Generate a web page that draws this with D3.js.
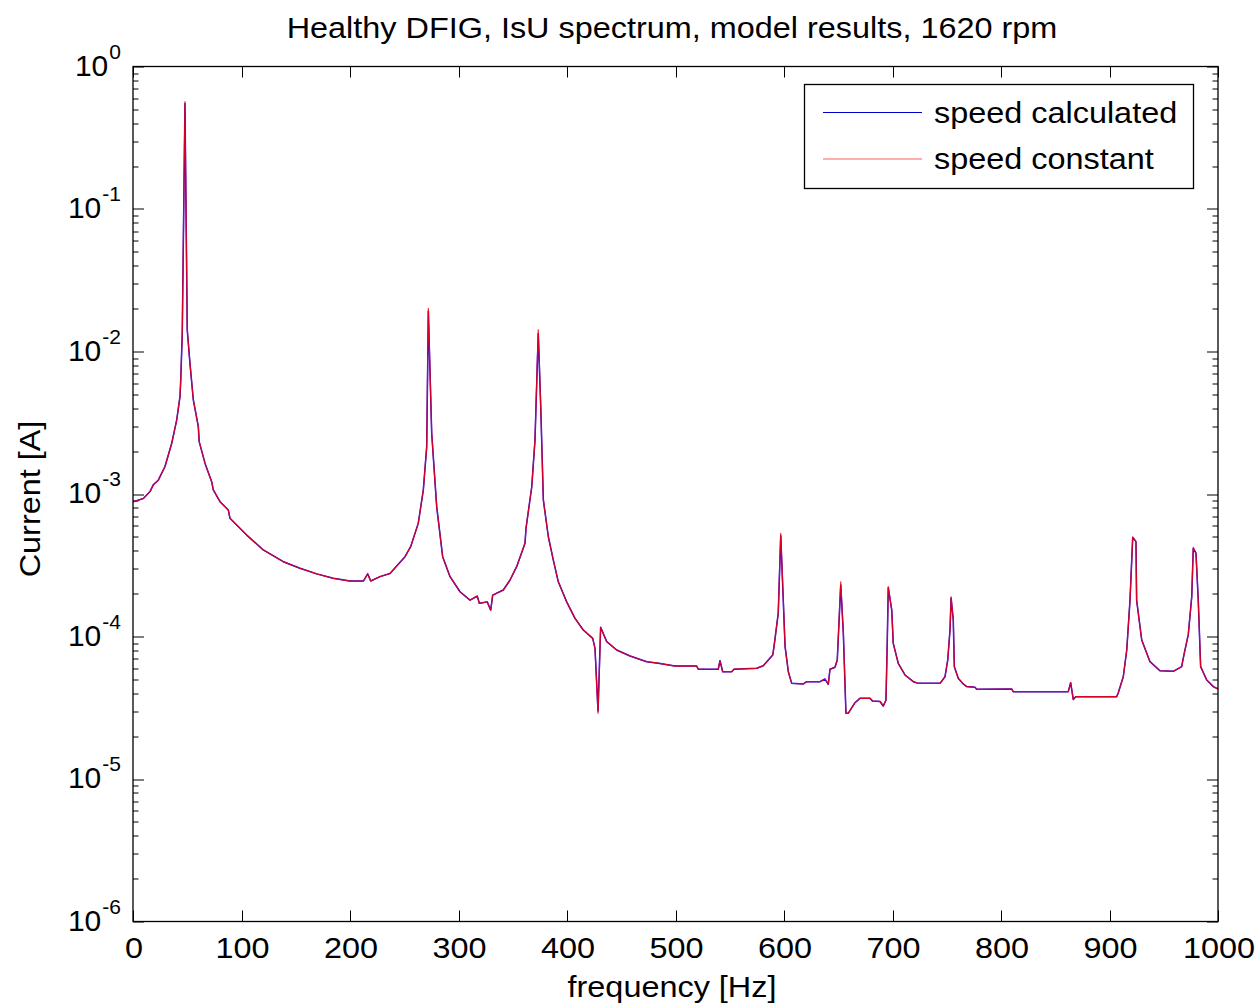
<!DOCTYPE html>
<html>
<head>
<meta charset="utf-8">
<script src="https://cdn.jsdelivr.net/npm/d3@7"></script>
<style>
  body { margin: 0; background: #fff; }
  text { font-family: "Liberation Sans", Arial, Helvetica, sans-serif; fill: #000; }
</style>
</head>
<body>
<div id="chart"></div>
<script>
// frequency [Hz] of each sample
const freq = [0, 9.5, 15.7, 18.7, 23.3, 29.5, 35.7, 40.3, 43.3, 44,
  45.4, 47.9, 50, 52.5, 55.6, 60.2, 61, 66.4, 72.5, 74,
  80.2, 87.8, 89.4, 104.8, 120.1, 138.5, 153.9, 169.3, 184.6, 200,
  212.3, 216.3, 219.1, 227.6, 236.9, 250.7, 255.9, 262.9, 267.6, 270.7,
  272.2, 275.3, 279.9, 285.4, 292.2, 301.4, 310.6, 317.3, 319.2, 326.5,
  329.7, 331.5, 341.3, 347.5, 353.6, 361.3, 362.2, 367.5, 370.5, 373.5,
  375.8, 378.2, 382.8, 387.4, 392, 399.7, 407.4, 415, 423.7, 425.8,
  428.6, 431, 436.6, 445.8, 458.1, 473.5, 484.1, 499.5, 519.5, 521,
  539.4, 541, 543.5, 551.8, 553.9, 574.8, 580.9, 589.6, 590.8, 594.7,
  597, 601, 604, 607.1, 617.8, 620.9, 633.2, 637.8, 640.8, 642.4,
  647, 649.1, 652.3, 654.7, 657.1, 659.2, 665.4, 670, 679.3, 681.7,
  688.5, 691.5, 694, 695.2, 696.1, 699.3, 700.7, 705.3, 711.5, 719.2,
  723.8, 743.8, 748.4, 750.9, 753, 754, 756, 757, 760.6, 765.2,
  768.4, 776, 777.6, 809.9, 811.3, 862, 864.2, 866.6, 868.9, 906.6,
  908.1, 912.7, 915.9, 918.9, 921.4, 924.4, 925, 929.7, 937.3, 946.5,
  958.8, 966.5, 968.7, 972.6, 975.8, 977.2, 979.7, 981.8, 984, 989.6,
  995.7, 1000];

// stator current, speed calculated [A]
const speedCalculated = [8.8e-4, 9.3e-4, 1.04e-3, 1.16e-3, 1.25e-3, 1.56e-3, 2.27e-3, 3.31e-3, 4.82e-3, 6.3e-3,
  0.0134, 0.55, 0.0142, 8.26e-3, 4.57e-3, 2.97e-3, 2.33e-3, 1.64e-3, 1.22e-3, 1.07e-3,
  8.83e-4, 7.73e-4, 6.75e-4, 5.15e-4, 4.05e-4, 3.35e-4, 3.01e-4, 2.75e-4, 2.56e-4, 2.45e-4,
  2.45e-4, 2.75e-4, 2.45e-4, 2.63e-4, 2.77e-4, 3.63e-4, 4.27e-4, 6.22e-4, 1.07e-3, 2.15e-3,
  0.0192, 2.67e-3, 8.15e-4, 3.63e-4, 2.63e-4, 2.06e-4, 1.80e-4, 1.92e-4, 1.71e-4, 1.75e-4,
  1.53e-4, 1.95e-4, 2.12e-4, 2.49e-4, 3.09e-4, 4.51e-4, 5.74e-4, 1.12e-3, 2.39e-3, 0.0134,
  4.1e-3, 9.08e-4, 5.01e-4, 3.44e-4, 2.42e-4, 1.75e-4, 1.34e-4, 1.11e-4, 9.7e-5, 8.26e-5,
  3.0e-5, 1.16e-4, 9.2e-5, 8.04e-5, 7.3e-5, 6.65e-5, 6.5e-5, 6.2e-5, 6.2e-5, 5.89e-5,
  5.89e-5, 6.76e-5, 5.66e-5, 5.66e-5, 5.9e-5, 5.98e-5, 6.24e-5, 7.41e-5, 8.49e-5, 1.46e-4,
  5.1e-4, 8.49e-5, 5.66e-5, 4.69e-5, 4.65e-5, 4.82e-5, 4.82e-5, 5.03e-5, 4.62e-5, 5.89e-5,
  6.08e-5, 6.84e-5, 2.3e-4, 1.05e-4, 2.89e-5, 2.89e-5, 3.43e-5, 3.68e-5, 3.68e-5, 3.52e-5,
  3.5e-5, 3.25e-5, 3.58e-5, 9.45e-5, 2.2e-4, 1.53e-4, 8.95e-5, 6.49e-5, 5.37e-5, 4.82e-5,
  4.69e-5, 4.69e-5, 5.22e-5, 6.84e-5, 1.11e-4, 1.86e-4, 1.31e-4, 6.14e-5, 5.09e-5, 4.65e-5,
  4.45e-5, 4.4e-5, 4.26e-5, 4.28e-5, 4.1e-5, 4.1e-5, 4.74e-5, 3.62e-5, 3.78e-5, 3.78e-5,
  4.03e-5, 5.22e-5, 8.04e-5, 1.8e-4, 4.95e-4, 4.63e-4, 1.8e-4, 9.45e-5, 6.66e-5, 5.75e-5,
  5.7e-5, 6.14e-5, 7.5e-5, 1.03e-4, 1.9e-4, 4.15e-4, 3.84e-4, 1.8e-4, 6.14e-5, 4.95e-5,
  4.45e-5, 4.28e-5];

// stator current, speed constant [A]
const speedConstant = [8.8e-4, 9.3e-4, 1.04e-3, 1.16e-3, 1.25e-3, 1.56e-3, 2.27e-3, 3.31e-3, 4.82e-3, 6.3e-3,
  0.0134, 0.566, 0.0142, 8.26e-3, 4.57e-3, 2.97e-3, 2.33e-3, 1.64e-3, 1.22e-3, 1.07e-3,
  8.83e-4, 7.73e-4, 6.75e-4, 5.15e-4, 4.05e-4, 3.35e-4, 3.01e-4, 2.75e-4, 2.56e-4, 2.45e-4,
  2.45e-4, 2.75e-4, 2.45e-4, 2.63e-4, 2.77e-4, 3.63e-4, 4.27e-4, 6.22e-4, 1.07e-3, 2.15e-3,
  0.0201, 2.67e-3, 8.15e-4, 3.63e-4, 2.63e-4, 2.06e-4, 1.80e-4, 1.92e-4, 1.71e-4, 1.75e-4,
  1.53e-4, 1.95e-4, 2.12e-4, 2.49e-4, 3.09e-4, 4.51e-4, 5.74e-4, 1.12e-3, 2.39e-3, 0.0142,
  4.1e-3, 9.08e-4, 5.01e-4, 3.44e-4, 2.42e-4, 1.75e-4, 1.34e-4, 1.11e-4, 9.7e-5, 8.26e-5,
  2.89e-5, 1.16e-4, 9.2e-5, 8.04e-5, 7.3e-5, 6.65e-5, 6.5e-5, 6.2e-5, 6.2e-5, 5.89e-5,
  5.89e-5, 6.76e-5, 5.66e-5, 5.66e-5, 5.9e-5, 5.98e-5, 6.24e-5, 7.41e-5, 8.49e-5, 1.46e-4,
  5.3e-4, 8.49e-5, 5.66e-5, 4.69e-5, 4.65e-5, 4.82e-5, 4.82e-5, 5.03e-5, 4.62e-5, 5.89e-5,
  6.08e-5, 6.84e-5, 2.42e-4, 1.05e-4, 2.89e-5, 2.89e-5, 3.43e-5, 3.68e-5, 3.68e-5, 3.52e-5,
  3.5e-5, 3.25e-5, 3.58e-5, 9.45e-5, 2.24e-4, 1.53e-4, 8.95e-5, 6.49e-5, 5.37e-5, 4.82e-5,
  4.69e-5, 4.69e-5, 5.22e-5, 6.84e-5, 1.11e-4, 1.9e-4, 1.31e-4, 6.14e-5, 5.09e-5, 4.65e-5,
  4.45e-5, 4.4e-5, 4.26e-5, 4.28e-5, 4.1e-5, 4.1e-5, 4.74e-5, 3.62e-5, 3.78e-5, 3.78e-5,
  4.03e-5, 5.22e-5, 8.04e-5, 1.8e-4, 5.0e-4, 4.63e-4, 1.8e-4, 9.45e-5, 6.66e-5, 5.75e-5,
  5.7e-5, 6.14e-5, 7.5e-5, 1.03e-4, 1.9e-4, 4.23e-4, 3.84e-4, 1.8e-4, 6.14e-5, 4.95e-5,
  4.45e-5, 4.28e-5];

const xTicks = [0, 100, 200, 300, 400, 500, 600, 700, 800, 900, 1000];
const yDecades = [-6, -5, -4, -3, -2, -1, 0];
const seriesNames = ["speed calculated", "speed constant"];
const seriesColors = ["#0000ff", "#ff0000"];

// chart size and plot box
const width = 1259;
const height = 1007;
const margin = {top: 66.5, right: 41, bottom: 85.5, left: 133};
const innerWidth = width - margin.left - margin.right;
const innerHeight = height - margin.top - margin.bottom;

// the reference font is a bit wider than Liberation Sans, stretch texts a little
const stretch = 1.08;
const widen = sel => sel.each(function() {
  const w = this.getComputedTextLength();
  d3.select(this).attr("textLength", w * stretch).attr("lengthAdjust", "spacingAndGlyphs");
});

const svg = d3.select("#chart")
  .append("svg")
  .attr("width", width)
  .attr("height", height);

const g = svg.append("g")
  .attr("transform", `translate(${margin.left},${margin.top})`);

// scales
const xScale = d3.scaleLinear().domain([0, 1000]).range([0, innerWidth]);
const yScale = d3.scaleLog().domain([1e-6, 1]).range([innerHeight, 0]);

// minor ticks between decades
const minorTicks = [];
yDecades.slice(0, -1).forEach(e => {
  for (let m = 2; m <= 9; m++) minorTicks.push(m * Math.pow(10, e));
});
const majorTicks = yDecades.map(e => Math.pow(10, e));

const tickLen = 11;
const minorLen = 5.5;

// ticks on all four sides, pointing inward (matlab style)
const axisG = g.append("g").attr("stroke", "#000").attr("stroke-width", 1);

xTicks.forEach(t => {
  const x = Math.round(xScale(t)) + 0.5;
  axisG.append("line").attr("x1", x).attr("x2", x).attr("y1", innerHeight).attr("y2", innerHeight - tickLen);
  axisG.append("line").attr("x1", x).attr("x2", x).attr("y1", 0).attr("y2", tickLen);
});

majorTicks.forEach(t => {
  const y = Math.round(yScale(t)) + 0.5;
  axisG.append("line").attr("x1", 0).attr("x2", tickLen).attr("y1", y).attr("y2", y);
  axisG.append("line").attr("x1", innerWidth).attr("x2", innerWidth - tickLen).attr("y1", y).attr("y2", y);
});

minorTicks.forEach(t => {
  const y = Math.round(yScale(t)) + 0.5;
  axisG.append("line").attr("x1", 0).attr("x2", minorLen).attr("y1", y).attr("y2", y);
  axisG.append("line").attr("x1", innerWidth).attr("x2", innerWidth - minorLen).attr("y1", y).attr("y2", y);
});

// the lines
const points = freq.map((f, i) => ({f: f, calc: speedCalculated[i], cons: speedConstant[i]}));

const lineCalc = d3.line().x(d => xScale(d.f)).y(d => yScale(d.calc));
const lineCons = d3.line().x(d => xScale(d.f)).y(d => yScale(d.cons));

g.append("path")
  .datum(points)
  .attr("fill", "none")
  .style("stroke", seriesColors[0])
  .attr("stroke-width", 1.5)
  .attr("stroke-linejoin", "round")
  .attr("d", lineCalc);

g.append("path")
  .datum(points)
  .attr("fill", "none")
  .style("stroke", seriesColors[1])
  .style("stroke-opacity", 0.85)
  .attr("stroke-width", 1.2)
  .attr("stroke-linejoin", "round")
  .attr("d", lineCons);

// plot box
g.append("rect")
  .attr("x", 0).attr("y", 0)
  .attr("width", innerWidth).attr("height", innerHeight)
  .attr("fill", "none")
  .attr("stroke", "#000")
  .attr("stroke-width", 1.3);

// x tick labels
g.selectAll(".xlabel")
  .data(xTicks)
  .enter()
  .append("text")
  .attr("class", "xlabel")
  .attr("x", d => xScale(d) + 1)
  .attr("y", innerHeight + 36)
  .attr("text-anchor", "middle")
  .style("font-size", "30px")
  .text(d => d)
  .call(widen);

// y tick labels, 10 with superscript exponent
const yLab = g.selectAll(".ylabel")
  .data(yDecades)
  .enter()
  .append("text")
  .attr("class", "ylabel")
  .attr("x", -10)
  .attr("y", d => yScale(Math.pow(10, d)) + 9)
  .attr("text-anchor", "end")
  .style("font-size", "30px");

yLab.append("tspan").attr("dx", -2).text("10");
yLab.append("tspan")
  .attr("dy", -17)
  .attr("dx", 1)
  .style("font-size", "21px")
  .text(d => d);

// title and axis labels
svg.append("text")
  .attr("x", 672)
  .attr("y", 38)
  .attr("text-anchor", "middle")
  .style("font-size", "30px")
  .text("Healthy DFIG, IsU spectrum, model results, 1620 rpm")
  .call(widen);

svg.append("text")
  .attr("x", 672)
  .attr("y", 997)
  .attr("text-anchor", "middle")
  .style("font-size", "30px")
  .text("frequency [Hz]")
  .call(widen);

svg.append("text")
  .attr("transform", "translate(40,499) rotate(-90)")
  .attr("text-anchor", "middle")
  .style("font-size", "30px")
  .text("Current [A]")
  .call(widen);

// legend
const legend = svg.append("g");
legend.append("rect")
  .attr("x", 804.5).attr("y", 84.5)
  .attr("width", 389).attr("height", 104)
  .attr("fill", "#fff")
  .attr("stroke", "#000")
  .attr("stroke-width", 1.3);

const legendY = [112.5, 159];
const legendStroke = ["#0000cc", "#ff5a5a"];
seriesNames.forEach((name, i) => {
  const y = legendY[i];
  legend.append("line")
    .attr("x1", 823).attr("x2", 922)
    .attr("y1", y).attr("y2", y)
    .style("stroke", legendStroke[i])
    .style("stroke-width", 1.2);
  legend.append("text")
    .attr("x", 934)
    .attr("y", y + 10)
    .style("font-size", "30px")
    .text(name)
    .call(widen);
});
</script>
</body>
</html>
